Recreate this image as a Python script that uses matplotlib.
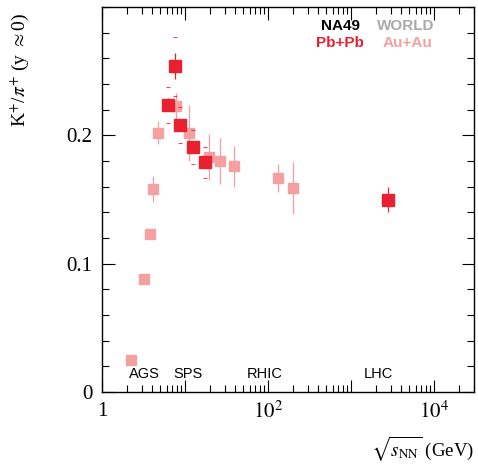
import numpy as np
import matplotlib.pyplot as plt
from matplotlib.ticker import LogLocator, FixedLocator, MultipleLocator, FuncFormatter, NullFormatter

# NA49 Pb+Pb (plus LHC point) - red
na49_e = [6.3, 7.6, 8.7, 12.3, 17.3, 2760]
na49_r = [0.224, 0.254, 0.208, 0.191, 0.179, 0.150]
na49_stat = [0.005, 0.010, 0.005, 0.004, 0.004, 0.010]
na49_sys = [0.014, 0.023, 0.014, 0.013, 0.012, 0.0]

# world Au+Au - pink
world_e = [2.24, 3.2, 3.79, 4.12, 4.73, 7.79, 11.2, 19.5, 26.4, 38.9, 132, 200]
world_r = [0.025, 0.088, 0.123, 0.158, 0.202, 0.223, 0.202, 0.183, 0.180, 0.176, 0.167, 0.159]
world_err = [0.002, 0.003, 0.004, 0.010, 0.009, 0.010, 0.022, 0.018, 0.018, 0.016, 0.011, 0.020]

regions = ['AGS', 'SPS', 'RHIC', 'LHC']
region_x = [2.1, 7.3, 55, 1400]

red = '#e82030'
pink = '#f4a0a0'
serif = 'Liberation Serif'
sans = 'Liberation Sans'
plt.rcParams['mathtext.fontset'] = 'stix'

fig = plt.figure(figsize=(4.78, 4.67), dpi=100)
ax = fig.add_axes([0.2134, 0.1606, 0.778, 0.8244])

ax.errorbar(world_e, world_r, yerr=world_err, fmt='s', color=pink, ms=7.5,
            elinewidth=0.9, ecolor=pink, capsize=0, zorder=2)
ax.errorbar(na49_e, na49_r, yerr=na49_sys, fmt='none', ecolor=red, elinewidth=0,
            capsize=1.5, capthick=0.8, alpha=0.8, zorder=3)
ax.errorbar(na49_e, na49_r, yerr=na49_stat, fmt='s', color=red, ms=8,
            elinewidth=0.9, ecolor=red, capsize=0, zorder=4)

ax.set_xscale('log')
ax.set_xlim(1, 3e4)
ax.set_ylim(0, 0.3)

ax.xaxis.set_major_locator(LogLocator(base=10, numticks=10))
ax.xaxis.set_minor_locator(LogLocator(base=10, subs=np.arange(2, 10), numticks=20))
ax.xaxis.set_minor_formatter(NullFormatter())

def xfmt(v, pos):
    e = int(round(np.log10(v)))
    if e == 0:
        return '1'
    if e % 2 == 0:
        return r'$10^{%d}$' % e
    return ''

ax.xaxis.set_major_formatter(FuncFormatter(xfmt))
ax.yaxis.set_major_locator(FixedLocator([0, 0.1, 0.2]))
ax.yaxis.set_minor_locator(MultipleLocator(0.02))
ax.yaxis.set_major_formatter(FuncFormatter(lambda v, p: '0' if v == 0 else '%.1f' % v))

ax.tick_params(which='both', direction='in', top=True, right=True, width=0.8)
ax.tick_params(which='major', length=9, labelsize=15, pad=7)
ax.tick_params(which='minor', length=5)
for lab in ax.get_xticklabels() + ax.get_yticklabels():
    lab.set_fontfamily(serif)
for s in ax.spines.values():
    s.set_linewidth(1.0)

ax.set_ylabel(r'K$^{+}$/$\pi^{+}$ (y $\approx$0)', fontsize=14, family=serif, ha='right')
ax.yaxis.set_label_coords(-0.19, 0.985)
ax.set_xlabel(r'$\sqrt{s_{\rm NN}}$ (GeV)', fontsize=13.5, family=serif, ha='right')
ax.xaxis.set_label_coords(1.0, -0.11)

for name, xv in zip(regions, region_x):
    ax.text(xv, 0.014, name, fontsize=10.5, family=sans, va='center')

ax.text(0.59, 0.94, 'NA49', transform=ax.transAxes, fontsize=11, weight='bold', family=sans, color='black')
ax.text(0.74, 0.94, 'WORLD', transform=ax.transAxes, fontsize=11, weight='bold', family=sans, color='#a8a8a8')
ax.text(0.575, 0.895, 'Pb+Pb', transform=ax.transAxes, fontsize=11, weight='bold', family=sans, color=red)
ax.text(0.755, 0.895, 'Au+Au', transform=ax.transAxes, fontsize=11, weight='bold', family=sans, color=pink)

fig.savefig('out.png', dpi=100)
